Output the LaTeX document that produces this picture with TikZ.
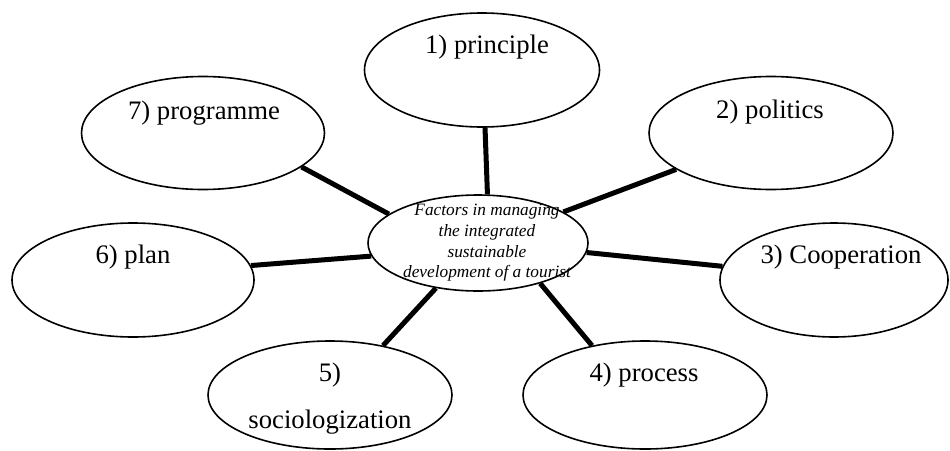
\documentclass[tikz,border=0pt]{standalone}
\usepackage{fontspec}
\setmainfont{Liberation Serif}
\usetikzlibrary{shapes.geometric}
\begin{document}
\begin{tikzpicture}[x=1pt,y=-1pt,
  bubble/.style 2 args={ellipse,draw,line width=1.6pt,fill=white,inner sep=0pt,
    minimum width=#1,minimum height=#2},
  lbl/.style={inner sep=0pt,font=\fontsize{26.7}{32}\selectfont},
  core/.style={inner sep=0pt,align=center,
    font=\fontsize{17.3}{20.6}\selectfont\itshape},
  link/.style={line width=5pt}]
\useasboundingbox (0,0) rectangle (950,450);

% outer factor ellipses
\node[bubble={235pt}{114pt}] (e1) at (482,70)  {};
\node[bubble={244pt}{113pt}] (e2) at (771,133) {};
\node[bubble={228pt}{114pt}] (e3) at (834,280) {};
\node[bubble={244pt}{108pt}] (e4) at (645,395) {};
\node[bubble={244pt}{108pt}] (e5) at (330,395) {};
\node[bubble={242pt}{114pt}] (e6) at (133,280) {};
\node[bubble={243pt}{113pt}] (e7) at (203,133) {};

% central ellipse
\node[bubble={220pt}{96pt}] (c) at (478,243) {};

% labels
\node[lbl] (t1) at (487,47)  {1) principle};
\node[lbl] (t2) at (770,112) {2) politics};
\node[lbl] (t3) at (841,257) {3) Cooperation};
\node[lbl] (t4) at (644,375) {4) process};
\node[lbl,align=center,font=\fontsize{26.7}{47}\selectfont] (t5) at (330,399) {5)\\sociologization};
\node[lbl] (t6) at (133,257) {6) plan};
\node[lbl] (t7) at (204,113) {7) programme};
\node[core] (tc) at (487,243) {Factors in managing\\the integrated\\sustainable\\development of a tourist};

% spokes
\draw[link] (e1.-87)  -- (c.79);
\draw[link] (e2.-159) -- (c.20);
\draw[link] (e3.173)  -- (c.-5);
\draw[link] (e4.137)  -- (c.-33);
\draw[link] (e5.43)   -- (c.-133);
\draw[link] (e6.7)    -- (c.-173);
\draw[link] (e7.-19)  -- (c.162);
\end{tikzpicture}
\end{document}
